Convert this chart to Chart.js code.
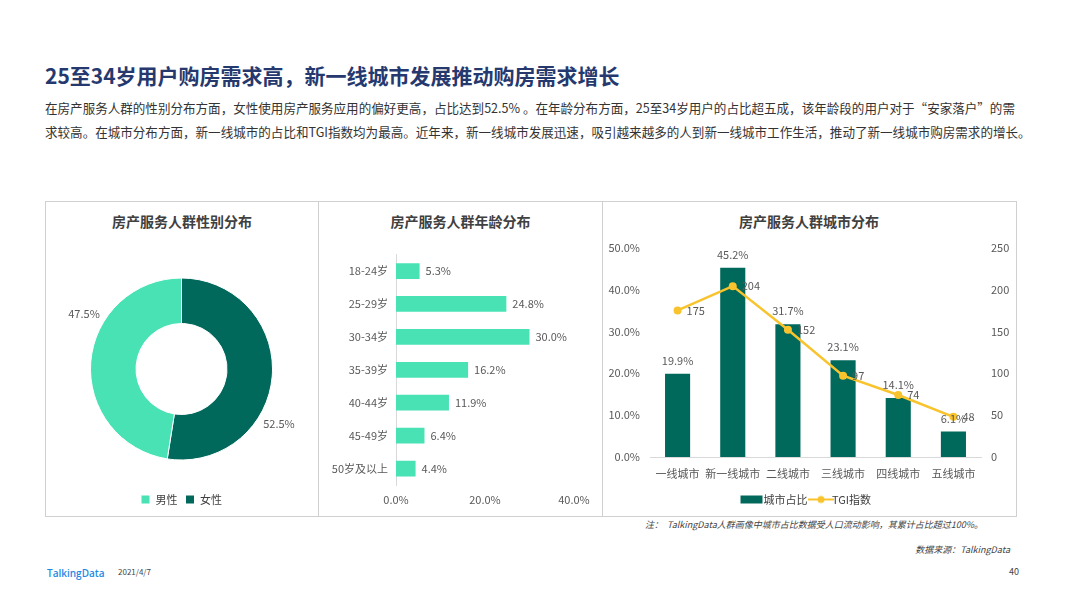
<!DOCTYPE html>
<html>
<head>
<meta charset="utf-8">
<script src="https://cdn.jsdelivr.net/npm/chart.js@4.4.1/dist/chart.umd.min.js"></script>
<style>
    body { margin: 0; width: 1066px; height: 599px; background: #fff; position: relative; overflow: hidden;
           font-family: "Noto Sans CJK SC", "Noto Sans", sans-serif; }
    .abs { position: absolute; }
    #title { left: 45px; top: 60px; font-size: 21px; font-weight: bold; color: #25396f; white-space: nowrap; }
    #intro { left: 45px; top: 96px; font-size: 12.55px; line-height: 24px; color: #333; white-space: nowrap; }
    #panels { left: 45px; top: 201px; width: 970px; height: 314px; border: 1px solid #d0d0d0; }
    .divider { top: 201px; width: 1px; height: 315px; background: #d0d0d0; }
    .ptitle { top: 211px; font-size: 14px; font-weight: bold; color: #404040; text-align: center; }
    .note { font-size: 9px; font-style: italic; color: #444; white-space: nowrap; }
    canvas { display: block; }
</style>
</head>
<body>
<div id="title" class="abs">25至34岁用户购房需求高，新一线城市发展推动购房需求增长</div>
<div id="intro" class="abs">在房产服务人群的性别分布方面，女性使用房产服务应用的偏好更高，占比达到52.5% 。在年龄分布方面，25至34岁用户的占比超五成，该年龄段的用户对于“安家落户”的需<br>求较高。在城市分布方面，新一线城市的占比和TGI指数均为最高。近年来，新一线城市发展迅速，吸引越来越多的人到新一线城市工作生活，推动了新一线城市购房需求的增长。</div>

<div id="panels" class="abs"></div>
<div class="abs divider" style="left:318px"></div>
<div class="abs divider" style="left:602px"></div>

<div class="abs ptitle" style="left:46px;width:272px">房产服务人群性别分布</div>
<div class="abs ptitle" style="left:319px;width:283px">房产服务人群年龄分布</div>
<div class="abs ptitle" style="left:603px;width:412px">房产服务人群城市分布</div>

<div class="abs" style="left:46px;top:240px;width:271px;height:275px"><canvas id="genderChart"></canvas></div>
<div class="abs" style="left:319px;top:240px;width:282px;height:275px"><canvas id="ageChart"></canvas></div>
<div class="abs" style="left:603px;top:231px;width:412px;height:284px"><canvas id="cityChart"></canvas></div>

<div class="abs note" style="right:83px;top:518px">注：&nbsp;&nbsp;TalkingData人群画像中城市占比数据受人口流动影响，其累计占比超过100%。</div>
<div class="abs note" style="right:56px;top:543px">数据来源：TalkingData</div>
<div class="abs" style="left:47px;top:566px;font-size:10px;color:#1e88e5;font-family:'Open Sans',sans-serif;font-weight:600;">TalkingData</div>
<div class="abs" style="left:118px;top:566px;font-size:8px;color:#444;">2021/4/7</div>
<div class="abs" style="left:1009px;top:565px;font-size:9px;color:#444;">40</div>

<script>
// ---- data ----
const genderLabels = ['女性', '男性'];
const genderValues = [52.5, 47.5];

const ageLabels = ['18-24岁', '25-29岁', '30-34岁', '35-39岁', '40-44岁', '45-49岁', '50岁及以上'];
const ageValues = [5.3, 24.8, 30.0, 16.2, 11.9, 6.4, 4.4];
const ageTicks = [0, 20, 40];

const cityLabels = ['一线城市', '新一线城市', '二线城市', '三线城市', '四线城市', '五线城市'];
const cityShare = [19.9, 45.2, 31.7, 23.1, 14.1, 6.1];
const cityTgi = [175, 204, 152, 97, 74, 48];

const LIGHT = '#48e2b5';
const DARK = '#00695b';
const YELLOW = '#f8c32c';
const FONT = '"Noto Sans CJK SC", "Noto Sans", sans-serif';
const TEXT = '#595959';

Chart.defaults.font.family = FONT;
Chart.defaults.color = TEXT;
Chart.defaults.animation = false;

// ---- gender doughnut ----
const donutLabels = {
    id: 'donutLabels',
    afterDatasetsDraw(chart) {
        const ctx = chart.ctx;
        ctx.save();
        ctx.font = '11px ' + FONT;
        ctx.fillStyle = TEXT;
        ctx.textAlign = 'center';
        ctx.textBaseline = 'middle';
        chart.getDatasetMeta(0).data.forEach((arc, i) => {
            const mid = (arc.startAngle + arc.endAngle) / 2 + 25 * Math.PI / 180;
            const r = arc.outerRadius + 21;
            ctx.fillText(genderValues[i].toFixed(1) + '%', arc.x + Math.cos(mid) * r, arc.y + Math.sin(mid) * r);
        });
        ctx.restore();
    }
};

new Chart(document.getElementById('genderChart'), {
    type: 'doughnut',
    data: {
        labels: genderLabels,
        datasets: [{
            data: genderValues,
            backgroundColor: [DARK, LIGHT],
            borderColor: '#fff',
            borderWidth: 1
        }]
    },
    options: {
        responsive: true,
        maintainAspectRatio: false,
        radius: 91,
        cutout: '50%',
        layout: { padding: { top: 12 } },
        plugins: {
            legend: {
                position: 'bottom',
                reverse: true,
                labels: { boxWidth: 9, boxHeight: 9, font: { size: 11 }, color: '#404040', padding: 8 }
            },
            tooltip: { enabled: false }
        }
    },
    plugins: [donutLabels]
});

// ---- age bar ----
const barEndLabels = {
    id: 'barEndLabels',
    afterDatasetsDraw(chart) {
        const ctx = chart.ctx;
        ctx.save();
        ctx.font = '11px ' + FONT;
        ctx.fillStyle = TEXT;
        ctx.textAlign = 'left';
        ctx.textBaseline = 'middle';
        chart.getDatasetMeta(0).data.forEach((bar, i) => {
            ctx.fillText(ageValues[i].toFixed(1) + '%', bar.x + 6, bar.y);
        });
        ctx.restore();
    }
};

new Chart(document.getElementById('ageChart'), {
    type: 'bar',
    data: {
        labels: ageLabels,
        datasets: [{
            data: ageValues,
            backgroundColor: LIGHT,
            barPercentage: 0.48,
            categoryPercentage: 1
        }]
    },
    options: {
        indexAxis: 'y',
        responsive: true,
        maintainAspectRatio: false,
        layout: { padding: { top: 12, right: 27, left: 0, bottom: 0 } },
        plugins: { legend: { display: false }, tooltip: { enabled: false } },
        scales: {
            x: {
                min: 0, max: 40,
                afterBuildTicks: scale => { scale.ticks = ageTicks.map(v => ({ value: v })); },
                afterFit: scale => { scale.height = 30; },
                grid: { display: false, drawTicks: false },
                border: { display: false },
                ticks: { padding: 8, font: { size: 11 }, callback: v => v.toFixed(1) + '%' }
            },
            y: {
                afterFit: scale => { scale.width = 77; },
                grid: { display: false, drawTicks: false },
                border: { display: true, color: '#d9d9d9' },
                ticks: { padding: 8, font: { size: 11 } }
            }
        }
    },
    plugins: [barEndLabels]
});

// ---- city combo ----
function legendSwatch(kind) {
    const c = document.createElement('canvas');
    c.width = 26; c.height = 10;
    const g = c.getContext('2d');
    if (kind === 'bar') {
        g.fillStyle = DARK;
        g.fillRect(1, 1, 22, 8);
    } else {
        g.strokeStyle = YELLOW;
        g.lineWidth = 2;
        g.beginPath(); g.moveTo(0, 5); g.lineTo(26, 5); g.stroke();
        g.fillStyle = YELLOW;
        g.beginPath(); g.arc(13, 5, 3.5, 0, Math.PI * 2); g.fill();
    }
    return c;
}
const swatches = [legendSwatch('bar'), legendSwatch('line')];

const comboLabels = {
    id: 'comboLabels',
    afterDatasetsDraw(chart) {
        const ctx = chart.ctx;
        ctx.save();
        ctx.font = '11px ' + FONT;
        ctx.fillStyle = TEXT;
        ctx.textBaseline = 'middle';
        ctx.textAlign = 'center';
        chart.getDatasetMeta(0).data.forEach((bar, i) => {
            ctx.fillText(cityShare[i].toFixed(1) + '%', bar.x, bar.y - 13);
        });
        ctx.textAlign = 'left';
        chart.getDatasetMeta(1).data.forEach((pt, i) => {
            ctx.fillText(String(cityTgi[i]), pt.x + 9, pt.y);
        });
        ctx.restore();
    }
};

new Chart(document.getElementById('cityChart'), {
    type: 'bar',
    data: {
        labels: cityLabels,
        datasets: [{
            label: '城市占比',
            data: cityShare,
            backgroundColor: DARK,
            barPercentage: 0.455,
            categoryPercentage: 1,
            yAxisID: 'y',
            order: 2
        }, {
            type: 'line',
            label: 'TGI指数',
            data: cityTgi,
            borderColor: YELLOW,
            backgroundColor: YELLOW,
            borderWidth: 2.5,
            pointRadius: 4,
            pointBackgroundColor: YELLOW,
            pointBorderWidth: 0,
            tension: 0,
            yAxisID: 'y1',
            order: 1
        }]
    },
    options: {
        responsive: true,
        maintainAspectRatio: false,
        layout: { padding: { top: 5, left: 0, right: 0, bottom: 0 } },
        plugins: {
            legend: {
                position: 'bottom',
                labels: {
                    usePointStyle: true,
                    font: { size: 11 },
                    color: '#404040',
                    padding: 8,
                    generateLabels: chart => chart.data.datasets.map((ds, i) => ({
                        text: ds.label,
                        pointStyle: swatches[i],
                        fillStyle: DARK,
                        strokeStyle: 'transparent',
                        lineWidth: 0,
                        fontColor: '#404040',
                        datasetIndex: i
                    }))
                }
            },
            tooltip: { enabled: false }
        },
        scales: {
            x: {
                afterFit: scale => { scale.height = 29; },
                grid: { display: false, drawTicks: false },
                border: { display: true, color: '#d9d9d9' },
                ticks: { padding: 10, font: { size: 11 }, maxRotation: 0, minRotation: 0, autoSkip: false }
            },
            y: {
                position: 'left',
                min: 0, max: 50,
                afterFit: scale => { scale.width = 47; },
                grid: { display: false, drawTicks: false },
                border: { display: false },
                ticks: { stepSize: 10, padding: 10, font: { size: 11 }, callback: v => v.toFixed(1) + '%' }
            },
            y1: {
                position: 'right',
                min: 0, max: 250,
                afterFit: scale => { scale.width = 34; },
                grid: { display: false, drawTicks: false },
                border: { display: false },
                ticks: { stepSize: 50, padding: 10, font: { size: 11 } }
            }
        }
    },
    plugins: [comboLabels]
});
</script>
</body>
</html>
